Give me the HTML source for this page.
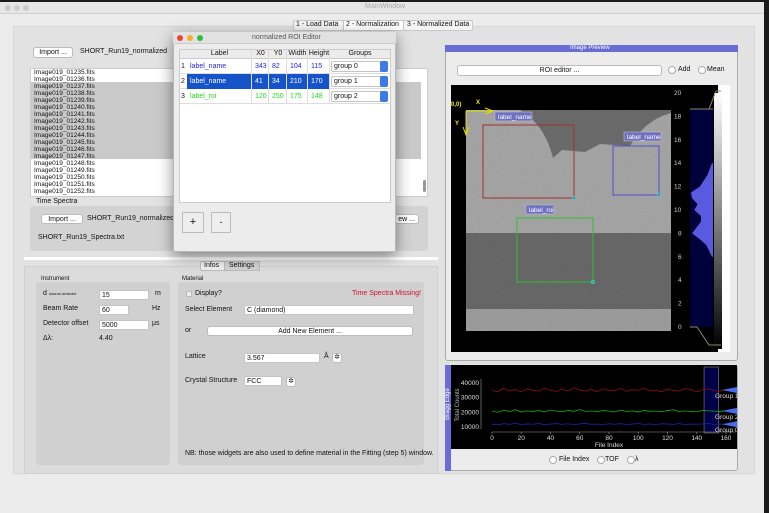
<!DOCTYPE html>
<html><head><meta charset="utf-8">
<style>
*{box-sizing:border-box;margin:0;padding:0}
body{width:769px;height:513px;overflow:hidden;background:#1a1a1a;font-family:"Liberation Sans",sans-serif;font-size:7px;color:#111;position:relative}
.a{position:absolute}
.btn{position:absolute;background:#fff;border:1px solid #bbb;border-radius:3px;text-align:center;font-size:7px;line-height:9px}
.inp{position:absolute;background:#fff;border:1px solid #c4c4c4;font-size:7px;line-height:9px;padding-left:2px}
.t{position:absolute;white-space:nowrap;font-size:7px}
.radio{position:absolute;width:8px;height:8px;border-radius:50%;background:#fff;border:1px solid #aaa}
</style></head><body>
<div class="a" style="left:0;top:2px;width:764px;height:511px;background:#ececec">
</div>
<div class="a" style="left:0;top:2px;width:764px;height:12px;background:#e6e6e6;border-bottom:1px solid #d0d0d0"></div>
<div class="a" style="left:5px;top:5px;width:6px;height:6px;border-radius:50%;background:#ccc"></div>
<div class="a" style="left:14px;top:5px;width:6px;height:6px;border-radius:50%;background:#ccc"></div>
<div class="a" style="left:23px;top:5px;width:6px;height:6px;border-radius:50%;background:#ccc"></div>
<div class="t" style="left:365px;top:3px;color:#aaa">MainWindow</div>

<div class="a" style="left:13px;top:26px;width:742px;height:448px;background:#e2e2e2;border:1px solid #d6d6d6"></div>
<div class="a" style="left:293px;top:20px;width:180px;height:11px;background:#f4f4f4;border:1px solid #c8c8c8;border-radius:2px"></div>
<div class="t" style="left:296px;top:21px">1 - Load Data</div>
<div class="a" style="left:343px;top:20px;width:61px;height:11px;background:#fff;border:1px solid #c8c8c8"></div>
<div class="t" style="left:346px;top:21px">2 - Normalization</div>
<div class="t" style="left:407px;top:21px">3 - Normalized Data</div>

<!-- left top -->
<div class="btn" style="left:33px;top:47px;width:40px;height:11px">Import ...</div>
<div class="t" style="left:80px;top:48px">SHORT_Run19_normalized</div>
<div class="a" style="left:30px;top:68px;width:398px;height:129px;background:#fff;border:1px solid #ccc"></div>
<div class="a" style="left:31px;top:82px;width:390px;height:77px;background:#c9c9c9"></div>
<div class="a" style="left:423px;top:180px;width:3px;height:12px;background:#999;border-radius:2px"></div>
<div id="files"></div>
<div class="t" style="left:36px;top:198px">Time Spectra</div>
<div class="a" style="left:30px;top:206px;width:398px;height:45px;background:#d3d3d3;border-radius:3px"></div>
<div class="btn" style="left:41px;top:214px;width:42px;height:10px">Import ...</div>
<div class="t" style="left:87px;top:215px">SHORT_Run19_normalized</div>
<div class="btn" style="left:380px;top:214px;width:39px;height:10px;text-align:right;padding-right:3px">ew ...</div>
<div class="t" style="left:38px;top:234px">SHORT_Run19_Spectra.txt</div>
<div class="a" style="left:24px;top:257px;width:414px;height:3px;background:#fff"></div>

<!-- lower tabs -->
<div class="a" style="left:24px;top:266px;width:414px;height:208px;background:#dcdcdc;border:1px solid #d0d0d0"></div>
<div class="a" style="left:200px;top:261px;width:60px;height:10px;background:#eee;border:1px solid #bbb;border-radius:2px"></div>
<div class="t" style="left:204px;top:262px">Infos</div>
<div class="a" style="left:224px;top:261px;width:36px;height:10px;background:#d2d2d2;border:1px solid #bbb"></div>
<div class="t" style="left:229px;top:262px">Settings</div>
<div class="t" style="left:41px;top:276px;font-size:6px">Instrument</div>
<div class="a" style="left:36px;top:282px;width:134px;height:183px;background:#d0d0d0;border-radius:3px"></div>
<div class="t" style="left:43px;top:290px">d <span style="font-size:4px">source-detector</span></div>
<div class="inp" style="left:99px;top:290px;width:50px;height:10px">15</div>
<div class="t" style="left:155px;top:290px">m</div>
<div class="t" style="left:43px;top:305px">Beam Rate</div>
<div class="inp" style="left:99px;top:305px;width:30px;height:10px">60</div>
<div class="t" style="left:152px;top:305px">Hz</div>
<div class="t" style="left:43px;top:320px">Detector offset</div>
<div class="inp" style="left:99px;top:320px;width:50px;height:10px">5000</div>
<div class="t" style="left:152px;top:320px">μs</div>
<div class="t" style="left:43px;top:335px">Δλ:</div>
<div class="t" style="left:99px;top:335px">4.40</div>

<div class="t" style="left:182px;top:276px;font-size:6px">Material</div>
<div class="a" style="left:178px;top:282px;width:246px;height:183px;background:#d0d0d0;border-radius:3px"></div>
<div class="a" style="left:186px;top:291px;width:6px;height:6px;background:#eee;border:1px solid #bbb"></div>
<div class="t" style="left:195px;top:290px">Display?</div>
<div class="t" style="left:352px;top:290px;color:#d0102a">Time Spectra Missing!</div>
<div class="t" style="left:185px;top:306px">Select Element</div>
<div class="inp" style="left:244px;top:305px;width:170px;height:10px">C (diamond)</div>
<div class="t" style="left:185px;top:327px">or</div>
<div class="btn" style="left:207px;top:326px;width:206px;height:10px">Add New Element ...</div>
<div class="t" style="left:185px;top:353px">Lattice</div>
<div class="inp" style="left:244px;top:353px;width:76px;height:10px">3.567</div>
<div class="t" style="left:324px;top:353px">Å</div>
<div class="btn" style="left:332px;top:353px;width:10px;height:10px;font-size:7px;line-height:8px">✲</div>
<div class="t" style="left:185px;top:377px">Crystal Structure</div>
<div class="inp" style="left:244px;top:376px;width:38px;height:10px">FCC</div>
<div class="btn" style="left:286px;top:377px;width:10px;height:10px;line-height:8px">✲</div>
<div class="t" style="left:185px;top:450px">NB: those widgets are also used to define material in the Fitting (step 5) window.</div>

<!-- ROI dialog -->
<div class="a" style="left:173px;top:32px;width:223px;height:220px;background:#ececec;border:1px solid #b8b8b8;box-shadow:0 4px 14px rgba(0,0,0,.45)"></div>
<div class="a" style="left:173px;top:32px;width:223px;height:12px;background:#e2e2e2;border-bottom:1px solid #ccc"></div>
<div class="a" style="left:177px;top:35px;width:6px;height:6px;border-radius:50%;background:#f0443a"></div>
<div class="a" style="left:187px;top:35px;width:6px;height:6px;border-radius:50%;background:#f5b12a"></div>
<div class="a" style="left:197px;top:35px;width:6px;height:6px;border-radius:50%;background:#2cc13f"></div>
<div class="t" style="left:252px;top:34px;color:#555">normalized ROI Editor</div>
<div class="a" style="left:179px;top:49px;width:212px;height:154px;background:#fff;border:1px solid #ccc"></div>
<div class="a" style="left:180px;top:50px;width:210px;height:9px;background:#ececec;border-bottom:1px solid #ccc"></div>
<div id="tbl"></div>
<div class="btn" style="left:182px;top:212px;width:22px;height:21px;background:#eee;font-size:11px;line-height:19px;border-radius:1px">+</div>
<div class="btn" style="left:211px;top:212px;width:20px;height:21px;background:#eee;font-size:9px;line-height:19px;border-radius:1px">-</div>

<!-- image preview -->
<div class="a" style="left:445px;top:45px;width:293px;height:316px;background:#ececec;border:1px solid #aaa;border-radius:3px"></div>
<div class="a" style="left:445px;top:45px;width:293px;height:7px;background:#6b6bd6"></div>
<div class="t" style="left:570px;top:45px;color:#fff;font-size:6px">Image Preview</div>
<div class="btn" style="left:457px;top:65px;width:205px;height:11px">ROI editor ...</div>
<div class="radio" style="left:668px;top:66px"></div>
<div class="t" style="left:678px;top:66px">Add</div>
<div class="radio" style="left:698px;top:66px"></div>
<div class="t" style="left:707px;top:66px">Mean</div>
<svg class="a" style="left:451px;top:85px" width="279" height="267" viewBox="451 85 279 267">
<defs><filter id="n" x="0" y="0" width="1" height="1"><feTurbulence type="fractalNoise" baseFrequency="0.9" numOctaves="1" result="t"/><feColorMatrix type="saturate" values="0"/><feComponentTransfer><feFuncA type="linear" slope="0.35"/></feComponentTransfer><feComposite in2="SourceGraphic" operator="in"/><feBlend in2="SourceGraphic" mode="multiply"/></filter></defs>
<rect x="451" y="85" width="279" height="267" fill="#000"/>
<g filter="url(#n)">
<rect x="466" y="110" width="205" height="221" fill="#a9a9a9"/>
<path d="M520,110 Q545,125 553,158 L562,150 L585,152 L600,144 L630,146 Q645,120 671,113 L671,110 Z" fill="#6e6e6e"/>
<rect x="466" y="233" width="205" height="76" fill="#6a6a6a"/>
<rect x="466" y="309" width="205" height="22" fill="#a0a0a0"/>
</g>
<rect x="483" y="125" width="91" height="73" fill="none" stroke="#a03030" stroke-width="1"/>
<rect x="613" y="146" width="46" height="49" fill="none" stroke="#5050d0"/>
<rect x="517" y="218" width="76" height="64" fill="none" stroke="#30c030"/>
<circle cx="574" cy="198" r="1.5" fill="none" stroke="#3cc"/><circle cx="659" cy="195" r="1.5" fill="none" stroke="#3cc"/><circle cx="593" cy="282" r="1.5" fill="none" stroke="#3cc"/>
<rect x="495" y="112" width="37" height="9" fill="#7070c0" stroke="#ccc" stroke-width=".5"/><text x="498" y="119" font-size="6.5" fill="#fff" font-family="Liberation Sans">label_name</text>
<rect x="624" y="132" width="37" height="9" fill="#7070c0" stroke="#ccc" stroke-width=".5"/><text x="627" y="139" font-size="6.5" fill="#fff" font-family="Liberation Sans">label_name</text>
<rect x="526" y="205" width="28" height="9" fill="#7070c0" stroke="#ccc" stroke-width=".5"/><text x="529" y="212" font-size="6.5" fill="#fff" font-family="Liberation Sans">label_roi</text>
<g stroke="#e0e000" fill="none"><line x1="466" y1="111" x2="491" y2="111"/><path d="M485,108 L493,111 L485,114"/><line x1="466" y1="111" x2="466" y2="133"/><path d="M463,127 L466,135 L469,127"/></g>
<text x="451" y="106" font-size="6" fill="#ee0" font-weight="bold" font-family="Liberation Sans">0,0)</text>
<text x="476" y="104" font-size="6" fill="#ee0" font-weight="bold" font-family="Liberation Sans">X</text>
<text x="455" y="125" font-size="6" fill="#ee0" font-weight="bold" font-family="Liberation Sans">Y</text>
</svg>
<svg class="a" style="left:672px;top:85px" width="58" height="267">
<defs><linearGradient id="g" x1="0" y1="0" x2="0" y2="1"><stop offset="0" stop-color="#fff"/><stop offset="1" stop-color="#000"/></linearGradient></defs>
<rect width="58" height="267" fill="#000"/>
<rect x="46" y="0" width="12" height="267" fill="#fff"/>
<rect x="18" y="24" width="23" height="218" fill="#00003a"/>
<path id="hist" fill="#5a5ae0"/>
<rect x="42" y="8" width="8" height="256" fill="url(#g)"/>
<path d="M18,24 L41,24 L37,24 L44,6 L49,6" stroke="#886" fill="none"/><path d="M18,242 L25,242 L37,260 L49,260" stroke="#886" fill="none"/>
<path d="M49,3 L57,0 L57,8Z" fill="#fff"/>
<g id="lutaxis" font-family="Liberation Sans" font-size="6.5" fill="#ccc"></g>
</svg>

<!-- bottom plot -->
<div class="a" style="left:445px;top:365px;width:293px;height:106px;background:#ececec;border:1px solid #aaa;border-radius:3px"></div>
<div class="a" style="left:445px;top:365px;width:6px;height:106px;background:#6b6bd6"></div>
<svg class="a" style="left:451px;top:365px" width="286" height="84" id="plot"></svg>
<div class="radio" style="left:549px;top:456px"></div>
<div class="t" style="left:559px;top:456px">File Index</div>
<div class="radio" style="left:597px;top:456px"></div>
<div class="t" style="left:605px;top:456px">TOF</div>
<div class="radio" style="left:627px;top:456px"></div>
<div class="t" style="left:635px;top:456px">λ</div>

<script>
// file list
const files=[];for(let i=1235;i<=1252;i++)files.push('Image019_0'+i+'.fits');
const fl=document.getElementById('files');
files.forEach((f,i)=>{const d=document.createElement('div');d.className='t';d.style.left='34px';d.style.top=(69+i*7)+'px';d.style.fontSize='6.5px';d.style.lineHeight='7px';d.textContent=f;


fl.appendChild(d);});

// table
const heads=['Label','X0','Y0','Width','Height','Groups'];
const colX=[187,252,269,287,308,330,390];
const rowsLabel=['label_name','label_name','label_roi'];
const rowsX0=[343,41,120],rowsY0=[82,34,250],rowsW=[104,210,175],rowsH=[115,170,148];
const rowsGroup=['group 0','group 1','group 2'];
const rowColor=['#2424e0','#fff','#22dd22'];
const tb=document.getElementById('tbl');
function cell(x,y,w,txt,col,center){const d=document.createElement('div');d.className='t';d.style.left=x+'px';d.style.top=y+'px';d.style.width=w+'px';if(center)d.style.textAlign='center';d.style.color=col;d.textContent=txt;tb.appendChild(d);return d;}
heads.forEach((h,i)=>{const c=cell(colX[i],50,colX[i+1]-colX[i],h,'#111',true);

});
for(let r=0;r<3;r++){const y=59+r*15;
 const line=document.createElement('div');line.className='a';line.style.cssText=`left:180px;top:${y+14}px;width:210px;height:1px;background:#ddd`;tb.appendChild(line);
 if(r==1){const bg=document.createElement('div');bg.className='a';bg.style.cssText=`left:187px;top:${y}px;width:143px;height:15px;background:#1553c8`;tb.appendChild(bg);}
 cell(181,y+4,6,String(r+1),'#111');
 const vals=[rowsLabel[r],rowsX0[r],rowsY0[r],rowsW[r],rowsH[r]];
 vals.forEach((v,i)=>{const c=cell(colX[i]+3,y+4,30,String(v),rowColor[r]);
 
 });
 const sel=document.createElement('div');sel.className='inp';sel.style.cssText=`left:331px;top:${y+2}px;width:57px;height:11px;border-radius:2px`;sel.textContent=rowsGroup[r];
 
 
 tb.appendChild(sel);
 const ar=document.createElement('div');ar.className='a';ar.style.cssText=`left:380px;top:${y+2}px;width:8px;height:11px;background:#3b7be8;border-radius:2px`;tb.appendChild(ar);
}
for(let i=1;i<6;i++){const l=document.createElement('div');l.className='a';l.style.cssText=`left:${colX[i]-1}px;top:50px;width:1px;height:54px;background:#ddd`;tb.appendChild(l);}

// LUT histogram
const NS='http://www.w3.org/2000/svg';
const lutTicks=[0,2,4,6,8,10,12,14,16,18,20];
const histLevels=[6,7,7.5,8,8.5,9,9.5,10,10.5,11,11.5,12,13,14];
const histCounts=[0.05,0.3,0.6,0.95,0.75,0.55,0.55,0.85,0.7,0.95,1,0.6,0.25,0.05];
const lutY=v=>242-v*(234/20);
const la=document.getElementById('lutaxis');
lutTicks.forEach(v=>{const t=document.createElementNS(NS,'text');t.setAttribute('x',v>=10?2:6);t.setAttribute('y',lutY(v)+2);t.textContent=v;la.appendChild(t);});
let hp='M41,'+lutY(histLevels[0]);histLevels.forEach((v,i)=>{hp+=' L'+(41-histCounts[i]*22)+','+lutY(v);});hp+=' L41,'+lutY(histLevels[histLevels.length-1])+'Z';
document.getElementById('hist').setAttribute('d',hp);

// bottom plot
const xTicks=[0,20,40,60,80,100,120,140,160];
const yTicks=[10000,20000,30000,40000];
const group1=[35000,34000,36500,34500,35500,34000,36000,35000,34500,36500,35000,34200,35800,34600,36800,35200,34500,35500,34000,36000,35000,34800,36200,34300,35500,35000,36500,34500,35200,34000,35800,35000,34500,36200,35500,34000,35300,36000,34800,34500,35200];
const group2=[21000,20000,21500,20500,21800,20200,21000,20600,21200,20300,21600,20800,20400,21300,20700,21900,20500,21000,20400,21200,20800,20300,21500,20600,21000,20200,21300,20700,20900,20500,21200,21800,20400,21000,20600,20300,21400,21000,20800,20600,21000];
const group0=[12000,11500,12300,11800,12500,11700,12100,11900,12400,11600,12000,12300,11800,12200,11700,12100,12500,11800,12000,11600,12200,11900,12300,11700,12000,12400,11800,12100,11600,12200,12000,11800,12300,11700,12000,11900,12100,12400,11800,12000,11900];
const idx=group1.map((_,i)=>i*4);
const sx=v=>41+v*(234/160);
const ys=v=>427-365-(v-10000)*(44/30000);
const svg=document.getElementById('plot');
function el(tag,attrs,parent){const e=document.createElementNS(NS,tag);for(const k in attrs)e.setAttribute(k,attrs[k]);(parent||svg).appendChild(e);return e;}
el('rect',{x:0,y:0,width:286,height:84,fill:'#000'});
el('rect',{x:sx(145),y:2,width:sx(155)-sx(145),height:66,fill:'#000048',stroke:'#886','stroke-width':0.6});
el('line',{x1:30,y1:ys(40000)-4,x2:30,y2:ys(10000)+2,stroke:'#999','stroke-width':0.6});
el('line',{x1:sx(0),y1:ys(10000)+5,x2:285,y2:ys(10000)+5,stroke:'#999','stroke-width':0.6});
yTicks.forEach(v=>{const t=el('text',{x:28,y:ys(v)+2,'text-anchor':'end','font-size':6.5,fill:'#ddd','font-family':'Liberation Sans'});t.textContent=v;});
xTicks.forEach(v=>{const t=el('text',{x:sx(v),y:ys(10000)+13,'text-anchor':'middle','font-size':6.5,fill:'#ddd','font-family':'Liberation Sans'});t.textContent=v;el('line',{x1:sx(v),y1:ys(10000)+5,x2:sx(v),y2:ys(10000)+7,stroke:'#999','stroke-width':0.6});});
const xl=el('text',{x:sx(80),y:82,'text-anchor':'middle','font-size':6.5,fill:'#ddd','font-family':'Liberation Sans'});xl.textContent='File Index';
const yl=el('text',{x:0,y:0,transform:'translate(8,'+ys(25000)+') rotate(-90)','text-anchor':'middle','font-size':6,fill:'#bbb','font-family':'Liberation Sans'});yl.textContent='Total Counts';
const series=[[group1,'#8a1010','Group 1'],[group2,'#10b010','Group 2'],[group0,'#2020b0','Group 0']];
series.forEach(([d,c,n])=>{const p=el('polyline',{points:d.map((v,i)=>sx(idx[i])+','+ys(v)).join(' '),fill:'none',stroke:c,'stroke-width':0.8});


const y=ys(d[d.length-1]);el('path',{d:`M${sx(160)-4},${y} L286,${y-3} L286,${y+3}Z`,fill:'#4a6af0'});
const t=el('text',{x:264,y:y+8,'font-size':6.5,fill:'#ddd','font-family':'Liberation Sans'});t.textContent=n;});
const be=document.createElement('div');be.className='t';be.style.cssText='left:432px;top:401px;width:32px;text-align:center;transform:rotate(-90deg);color:#fff;font-size:6px';be.textContent='Bragg Edge';


document.body.appendChild(be);
</script>
</body></html>
